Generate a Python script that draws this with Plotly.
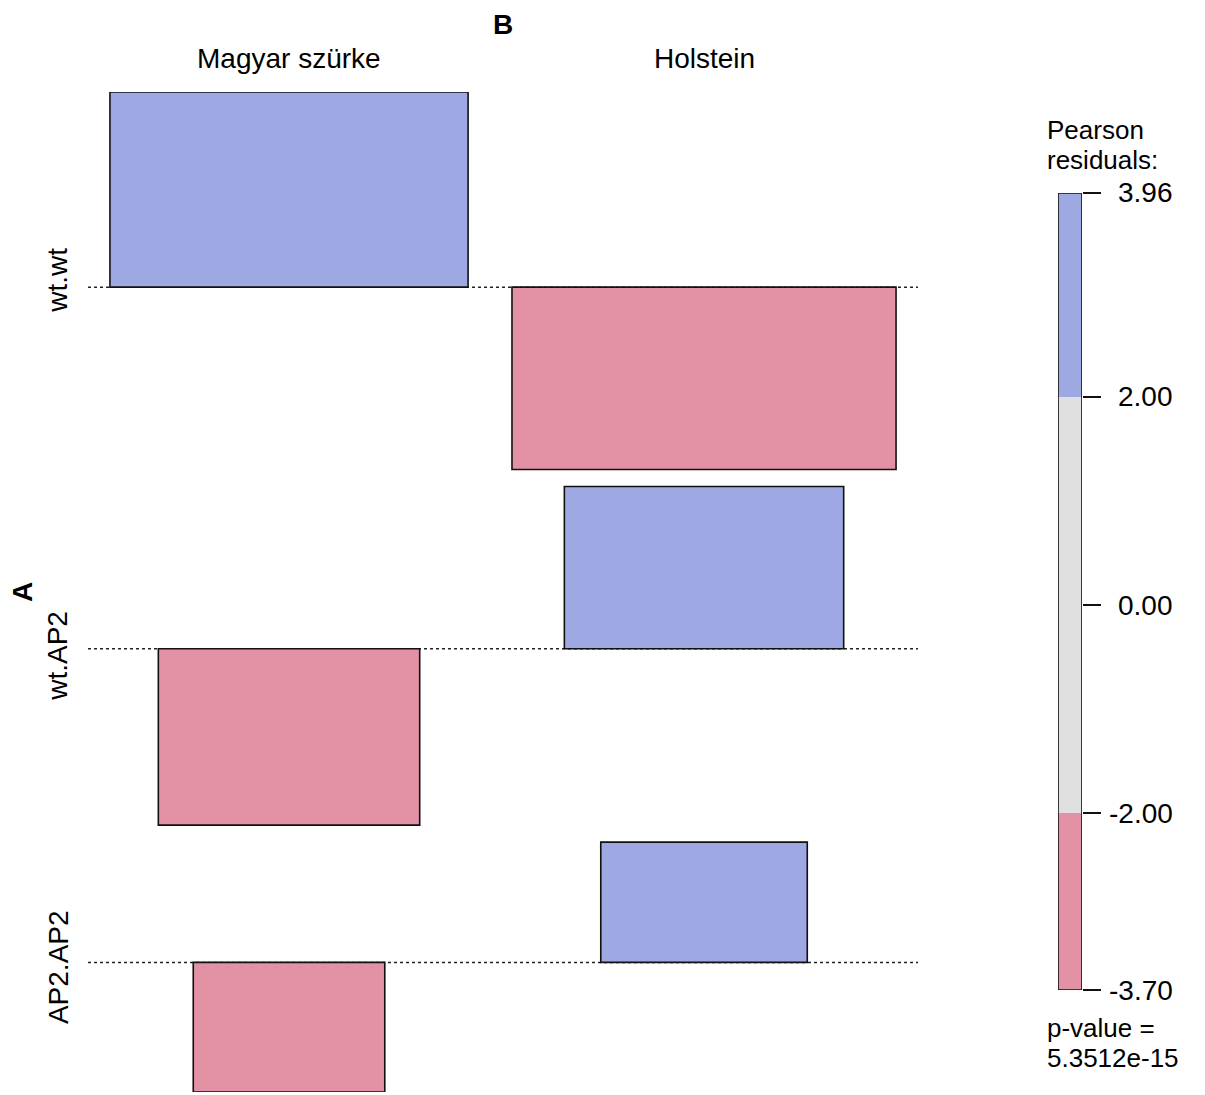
import plotly.graph_objects as go

# Association plot: genotype (A) by breed (B)
rows = ["wt.wt", "wt.AP2", "AP2.AP2"]
cols = ["Magyar szürke", "Holstein"]

# Pearson residuals (rows x cols)
residuals = [[3.96, -3.70],
             [-3.58, 3.29],
             [-2.63, 2.44]]
# square roots of expected counts (relative units) -> bar widths
sqrt_expected = [[7.18, 7.70],
                 [5.24, 5.60],
                 [3.84, 4.14]]

legend_ticks = [3.96, 2.00, 0.00, -2.00, -3.70]
legend_cuts = [-3.70, -2.00, 2.00, 3.96]
p_value = "5.3512e-15"

W, H = 1205, 1095
FONT = "Liberation Sans, Arial, sans-serif"
FS = 28
BLUE = "#9EA8E2"
PINK = "#E292A4"
GREY = "#E0E0E0"


def shade(r):
    if r > 2:
        return BLUE
    if r < -2:
        return PINK
    return GREY


# column layout (sqrt-expected units), half a gap of padding at both ends
xgap = 0.88
col_w = [max(sqrt_expected[i][j] for i in range(len(rows))) for j in range(len(cols))]
centers = []
pos = xgap / 2
for w in col_w:
    centers.append(pos + w / 2)
    pos += w + xgap
x_total = pos - xgap / 2

# row layout (residual units, measured downward from top)
ygap = 0.345
baselines, row_mid = [], []
top = 0.0
for i in range(len(rows)):
    up = max(0.0, max(residuals[i]))
    down = max(0.0, -min(residuals[i]))
    base = top - up
    baselines.append(base)
    row_mid.append(top - (up + down) / 2)
    top = base - down - ygap
y_total = -(top + ygap)

shapes = []
# dotted baselines
for b in baselines:
    shapes.append(dict(type="line", xref="x", yref="y", x0=0, x1=x_total, y0=b, y1=b,
                       line=dict(color="#222222", width=1.5, dash="3px,3px")))
# residual bars
for i in range(len(rows)):
    for j in range(len(cols)):
        r = residuals[i][j]
        w = sqrt_expected[i][j]
        shapes.append(dict(type="rect", xref="x", yref="y",
                           x0=centers[j] - w / 2, x1=centers[j] + w / 2,
                           y0=baselines[i], y1=baselines[i] + r,
                           fillcolor=shade(r), line=dict(color="#111111", width=1.6)))

# legend colour bar
for lo, hi in zip(legend_cuts[:-1], legend_cuts[1:]):
    shapes.append(dict(type="rect", xref="x2", yref="y2", x0=0, x1=1, y0=lo, y1=hi,
                       fillcolor=shade((lo + hi) / 2), line=dict(width=0)))
shapes.append(dict(type="rect", xref="x2", yref="y2", x0=0, x1=1,
                   y0=legend_cuts[0], y1=legend_cuts[-1],
                   fillcolor="rgba(0,0,0,0)", line=dict(color="#111111", width=1.6)))

annotations = []
font = dict(family=FONT, size=FS, color="black")
small = dict(family=FONT, size=26, color="black")
bold = dict(family=FONT, size=FS, color="black", weight="bold")

annotations.append(dict(text="B", xref="x", yref="paper", x=x_total / 2, y=1 - 24 / H,
                        showarrow=False, font=bold, xanchor="center", yanchor="middle"))
for j, c in enumerate(cols):
    annotations.append(dict(text=c, xref="x", yref="paper", x=centers[j], y=1 - 59 / H,
                            showarrow=False, font=font, xanchor="center", yanchor="middle"))
annotations.append(dict(text="A", xref="paper", yref="y", x=22 / W, y=-y_total / 2,
                        textangle=-90, showarrow=False, font=bold,
                        xanchor="center", yanchor="middle"))
for i, rname in enumerate(rows):
    annotations.append(dict(text=rname, xref="paper", yref="y", x=58 / W, y=row_mid[i],
                            textangle=-90, showarrow=False, font=font,
                            xanchor="center", yanchor="middle"))

for t in legend_ticks:
    annotations.append(dict(text=f"{t:.2f}", xref="paper", yref="y2", x=1175 / W, y=t,
                            showarrow=False, font=font, xanchor="right", yanchor="middle"))
for txt, yy in [("Pearson", 130), ("residuals:", 160), ("p-value =", 1028), (p_value, 1058)]:
    annotations.append(dict(text=txt, xref="paper", yref="paper", x=1045 / W, y=1 - yy / H,
                            showarrow=False, font=small, xanchor="left", yanchor="middle",
                            height=28))

hidden = dict(showgrid=False, zeroline=False, showticklabels=False, showline=False, ticks="")

fig = go.Figure()
fig.update_layout(
    width=W, height=H,
    margin=dict(l=0, r=0, t=0, b=0),
    paper_bgcolor="white", plot_bgcolor="rgba(0,0,0,0)",
    showlegend=False,
    shapes=shapes,
    annotations=annotations,
    xaxis=dict(domain=[88 / W, 918 / W], range=[0, x_total], **hidden),
    yaxis=dict(domain=[1 - 1092 / H, 1 - 92 / H], range=[-y_total, 0], **hidden),
    xaxis2=dict(domain=[1058 / W, 1082 / W], range=[0, 1], anchor="y2", **hidden),
    yaxis2=dict(domain=[1 - 990 / H, 1 - 193 / H], range=[legend_cuts[0], legend_cuts[-1]],
                anchor="x2", side="right", showgrid=False, zeroline=False,
                showticklabels=False, showline=False, ticks="outside", ticklen=18,
                tickwidth=1.5, tickcolor="#111111", tickvals=legend_ticks),
)
# invisible anchors so both axis pairs are rendered
fig.add_trace(go.Scatter(x=[0], y=[0], xaxis="x", yaxis="y", mode="markers",
                         marker=dict(opacity=0), hoverinfo="skip"))
fig.add_trace(go.Scatter(x=[0.5], y=[0], xaxis="x2", yaxis="y2", mode="markers",
                         marker=dict(opacity=0), hoverinfo="skip"))

fig.write_html("out.html")
